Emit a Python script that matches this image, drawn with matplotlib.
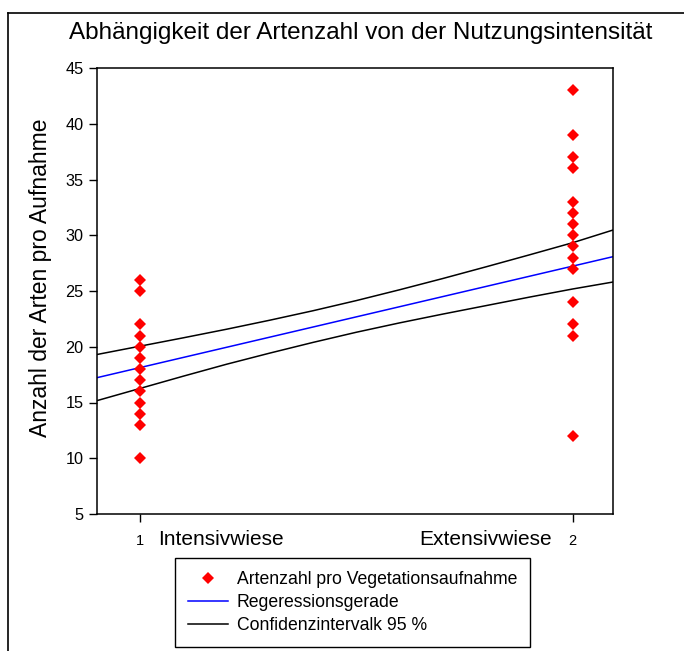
import matplotlib
matplotlib.use("Agg")
import matplotlib.pyplot as plt
from matplotlib.lines import Line2D

plt.rcParams['font.family'] = ['Liberation Sans', 'DejaVu Sans']

# ---- data ----
intensiv_values = [26, 25, 22, 21, 20, 19, 18, 17, 16, 15, 14, 13, 10]
extensiv_values = [43, 39, 37, 36, 33, 32, 31, 30, 29, 28, 27, 24, 22, 21, 12]
group_x = [1, 2]

reg_x = [0.9, 2.1]
reg_y = [17.22, 28.14]

ci_x = [0.9, 1.0, 1.1, 1.2, 1.3, 1.4, 1.5, 1.6, 1.7, 1.8, 1.9, 2.0, 2.1]
ci_upper = [19.30, 20.05, 20.80, 21.57, 22.38, 23.23, 24.14, 25.11, 26.12,
            27.17, 28.24, 29.33, 30.55]
ci_lower = [15.16, 16.26, 17.36, 18.43, 19.43, 20.39, 21.30, 22.14, 22.93,
            23.69, 24.45, 25.18, 25.85]

yticks = [5, 10, 15, 20, 25, 30, 35, 40, 45]
xticks = [1, 2]
group_names = ["Intensivwiese", "Extensivwiese"]

title = "Abhängigkeit der Artenzahl von der Nutzungsintensität"
ylabel = "Anzahl der Arten pro Aufnahme"
legend_labels = ["Artenzahl pro Vegetationsaufnahme", "Regeressionsgerade",
                 "Confidenzintervalk 95 %"]

W, H = 684, 651
fig = plt.figure(figsize=(W / 100, H / 100), dpi=100)

# outer frame (top and left border)
fig.add_artist(Line2D([8 / W, 1.0], [1 - 13 / H, 1 - 13 / H], color='black', lw=1.2))
fig.add_artist(Line2D([8 / W, 8 / W], [1 - 13 / H, 0.0], color='black', lw=1.2))

left, right = 96.7 / W, 613.3 / W
top, bottom = 1 - 68 / H, 1 - 514 / H
ax = fig.add_axes([left, bottom, right - left, top - bottom])

ax.plot([group_x[0]] * len(intensiv_values), intensiv_values, linestyle='none',
        marker='D', markersize=6.5, color='#ff0000', markeredgewidth=0, zorder=3)
ax.plot([group_x[1]] * len(extensiv_values), extensiv_values, linestyle='none',
        marker='D', markersize=6.5, color='#ff0000', markeredgewidth=0, zorder=3)
ax.plot(reg_x, reg_y, color='#0000ff', lw=1.1)
ax.plot(ci_x, ci_upper, color='black', lw=1.1)
ax.plot(ci_x, ci_lower, color='black', lw=1.1)

ax.set_xlim(0.9, 2.094)
ax.set_ylim(5, 45)
ax.set_yticks(yticks)
ax.set_xticks(xticks)
ax.set_xticklabels([str(v) for v in xticks])
ax.tick_params(axis='y', direction='out', length=5.5, width=1, labelsize=11.7, pad=4)
ax.tick_params(axis='x', direction='out', length=5.5, width=1, labelsize=10.5, pad=9)
for s in ax.spines.values():
    s.set_linewidth(1.1)

ax.text(1.042, -0.058, group_names[0], transform=ax.get_xaxis_transform(),
        ha='left', va='center', fontsize=15)
ax.text(1.952, -0.058, group_names[1], transform=ax.get_xaxis_transform(),
        ha='right', va='center', fontsize=15)

ax.set_ylabel(ylabel, fontsize=16.5)
ax.yaxis.set_label_coords((52 - 96.7) / (613.3 - 96.7), (514 - 277.5) / 446)
fig.text(360.5 / W, 1 - 33 / H, title, ha='center', va='center', fontsize=17.5)

handles = [
    Line2D([], [], linestyle='none', marker='D', markersize=6.5, color='#ff0000',
           markeredgewidth=0),
    Line2D([], [], color='#0000ff', lw=1.1),
    Line2D([], [], color='black', lw=1.1),
]
leg = fig.legend(handles, legend_labels, loc='upper left',
                 bbox_to_anchor=(175 / W, 1 - 558 / H), fontsize=12.7,
                 frameon=True, fancybox=False, edgecolor='black', framealpha=1,
                 borderpad=0.74, labelspacing=0.33, handlelength=2.27,
                 handletextpad=0.5, borderaxespad=0)
leg.get_frame().set_linewidth(1.0)

fig.savefig("out.png", dpi=100)
